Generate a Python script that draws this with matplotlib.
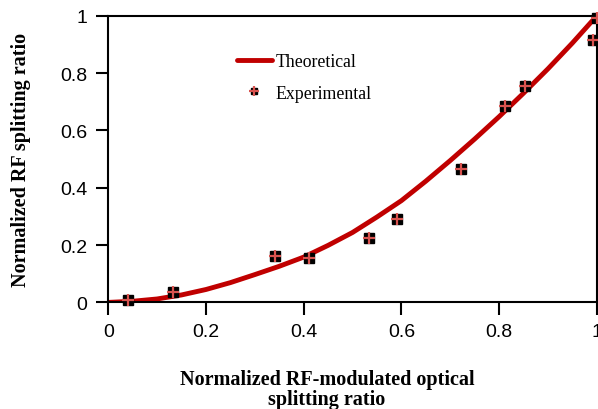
import matplotlib.pyplot as plt
from matplotlib.lines import Line2D

# theoretical curve
theo_x = [0, 0.05, 0.1, 0.15, 0.2, 0.25, 0.3, 0.35, 0.4, 0.45, 0.5, 0.55, 0.6, 0.65, 0.7, 0.75, 0.8, 0.85, 0.9, 0.95, 1.0]
theo_y = [0, 0.004, 0.012, 0.026, 0.045, 0.069, 0.097, 0.126, 0.158, 0.199, 0.244, 0.298, 0.355, 0.423, 0.495, 0.570, 0.648, 0.730, 0.815, 0.905, 1.0]

# experimental points
exp_x = [0.041, 0.132, 0.342, 0.411, 0.533, 0.592, 0.723, 0.813, 0.854, 0.992, 1.0]
exp_y = [0.008, 0.038, 0.163, 0.156, 0.224, 0.290, 0.467, 0.686, 0.756, 0.916, 0.994]

red = '#c00000'
pink = '#d9534f'

fig = plt.figure(figsize=(5.98, 4.10), dpi=100)
ax = fig.add_axes([0.181, 0.26, 0.817, 0.699])

ax.plot(theo_x, theo_y, color=red, lw=3.5, solid_capstyle='round', zorder=2)
ax.plot(exp_x, exp_y, ls='none', marker='s', ms=6.5, color='black', zorder=3, clip_on=False)
ax.plot(exp_x, exp_y, ls='none', marker='+', ms=8, mew=1.6, color=pink, zorder=4, clip_on=False)

ax.set_xlim(0, 1)
ax.set_ylim(0, 1)
ax.set_xticks([0, 0.2, 0.4, 0.6, 0.8, 1.0])
ax.set_xticklabels(['0', '0.2', '0.4', '0.6', '0.8', '1'])
ax.set_yticks([0, 0.2, 0.4, 0.6, 0.8, 1.0])
ax.set_yticklabels(['0', '0.2', '0.4', '0.6', '0.8', '1'])
ax.tick_params(direction='out', length=9, width=1.5, labelsize=14, pad=6)
for lab in ax.get_xticklabels() + ax.get_yticklabels():
    lab.set_fontfamily('Liberation Sans')
for s in ax.spines.values():
    s.set_linewidth(1.5)

ax.set_xlabel('Normalized RF-modulated optical\nsplitting ratio', fontfamily='Liberation Serif',
              fontweight='bold', fontsize=14.5, linespacing=1.0)
ax.xaxis.set_label_coords(0.448, -0.232, transform=ax.transAxes)
ax.xaxis.label.set_va('top')
ax.set_ylabel('Normalized RF splitting ratio', fontfamily='Liberation Serif',
              fontweight='bold', fontsize=14.5, labelpad=21)

h_line = Line2D([], [], color=red, lw=3.5, solid_capstyle='round')
h_sq = Line2D([], [], ls='none', marker='s', ms=5, color='black')
h_pl = Line2D([], [], ls='none', marker='+', ms=6.5, mew=1.6, color=pink)
leg = ax.legend([h_line, (h_sq, h_pl)], ['Theoretical', 'Experimental'],
                loc='upper left', bbox_to_anchor=(0.23, 0.925), frameon=False,
                prop={'family': 'Liberation Serif', 'size': 12.8},
                handlelength=2.0, handletextpad=0.2, labelspacing=0.8)

fig.savefig('out.png', dpi=100)
